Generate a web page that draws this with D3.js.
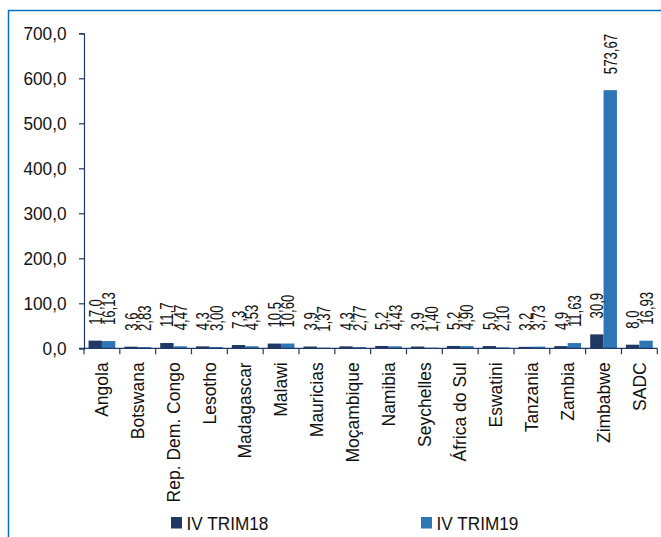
<!DOCTYPE html>
<html><head><meta charset="utf-8">
<script src="https://cdn.jsdelivr.net/npm/d3@7"></script>
<style>body{margin:0;background:#fff}svg{display:block}text{font-family:"Liberation Sans",Arial,sans-serif;fill:#111}</style>
</head><body><div id="chart"></div>
<script>
const categories = ["Angola","Botswana","Rep. Dem. Congo","Lesotho","Madagascar","Malawi","Mauricias","Moçambique","Namibia","Seychelles","África do Sul","Eswatini","Tanzania","Zambia","Zimbabwe","SADC"];
const seriesNames = ["IV TRIM18","IV TRIM19"];
const trim18 = [17.0,3.6,11.7,4.3,7.3,10.5,3.9,4.3,5.2,3.9,5.2,5.0,3.2,4.9,30.9,8.0];
const trim19 = [16.13,2.83,4.47,3.00,4.53,10.60,1.37,2.77,4.43,1.40,4.90,2.10,3.73,11.63,573.67,16.93];
const yTicks = [0,100,200,300,400,500,600,700];
const colors = ["#203864","#2E75B6"];

const W = 661, H = 537;
const svg = d3.select("#chart").append("svg").attr("width", W).attr("height", H);
svg.append("rect").attr("width", W).attr("height", H).attr("fill", "#fff");
// outer frame
svg.append("path").attr("d", `M8.5,${H+2}V10.5H${W+2}`).attr("fill","none").attr("stroke","#0070C0").attr("stroke-width",1.5);

const x0 = 84, x1 = 657.3, yBot = 348.3, yTop = 33.3;
const x = d3.scaleBand().domain(categories).range([x0, x1]).paddingInner(0).paddingOuter(0);
const y = d3.scaleLinear().domain([0, 700]).range([yBot, yTop]);
const xs = d3.scaleBand().domain([0,1]).range([0, x.bandwidth()]).paddingInner(0).paddingOuter(0.34);

const fmt = [v => d3.format(".1f")(v).replace(".", ","), v => d3.format(".2f")(v).replace(".", ",")];
const data = [trim18, trim19];

// bars
categories.forEach((c, i) => {
  [0,1].forEach(s => {
    const v = data[s][i];
    svg.append("rect")
      .attr("x", x(c) + xs(s)).attr("width", xs.bandwidth())
      .attr("y", y(v)).attr("height", y(0) - y(v))
      .attr("fill", colors[s]);
  });
});

// y axis
const yAxis = d3.axisLeft(y).tickValues(yTicks).tickSize(5).tickPadding(17)
  .tickFormat(d => d3.format(".1f")(d).replace(".", ","));
const gy = svg.append("g").attr("transform", `translate(${x0},0)`).call(yAxis);
gy.select(".domain").attr("stroke", "#1F3864").attr("stroke-width", 1.2);
gy.selectAll(".tick line").attr("stroke", "#1F3864").attr("stroke-width", 1.2);
gy.selectAll(".tick text").attr("font-size", 18.5).attr("font-family", "Liberation Sans, Arial").attr("fill", "#111")
  .attr("x", null)
  .attr("transform", "translate(-17.5,0) scale(0.93,1)");

// x axis
const gx = svg.append("g").attr("transform", `translate(0,${yBot})`);
gx.append("line").attr("x1", x0 - 5).attr("x2", x1).attr("stroke", "#1F3864").attr("stroke-width", 1.2);
const bounds = categories.map(c => x(c)).concat([x1]);
gx.selectAll(".xt").data(bounds).join("line")
  .attr("x1", d => d).attr("x2", d => d).attr("y1", 0).attr("y2", 6)
  .attr("stroke", "#1F3864").attr("stroke-width", 1.2);
gx.selectAll(".xl").data(categories).join("text")
  .attr("transform", d => `translate(${x(d) + x.bandwidth()/2},14) rotate(-90)`)
  .attr("text-anchor", "end").attr("dy", "0.35em")
  .attr("font-size", 17.5).text(d => d);

// data labels
categories.forEach((c, i) => {
  [0,1].forEach(s => {
    const v = data[s][i];
    const cx = x(c) + xs(s) + xs.bandwidth()/2;
    svg.append("text")
      .attr("transform", `translate(${cx},${y(v) - 16}) rotate(-90) scale(0.71,1)`)
      .attr("text-anchor", "start").attr("dy", "0.35em")
      .attr("font-size", 18.5).text(fmt[s](v));
  });
});

// legend
const legX = [171, 421];
seriesNames.forEach((n, s) => {
  svg.append("rect").attr("x", legX[s]).attr("y", 517).attr("width", 11).attr("height", 11.5).attr("fill", colors[s]);
  svg.append("text").attr("transform", `translate(${legX[s] + 15.5},529.5) scale(0.93,1)`)
    .attr("font-size", 18.5).text(n);
});
</script></body></html>
